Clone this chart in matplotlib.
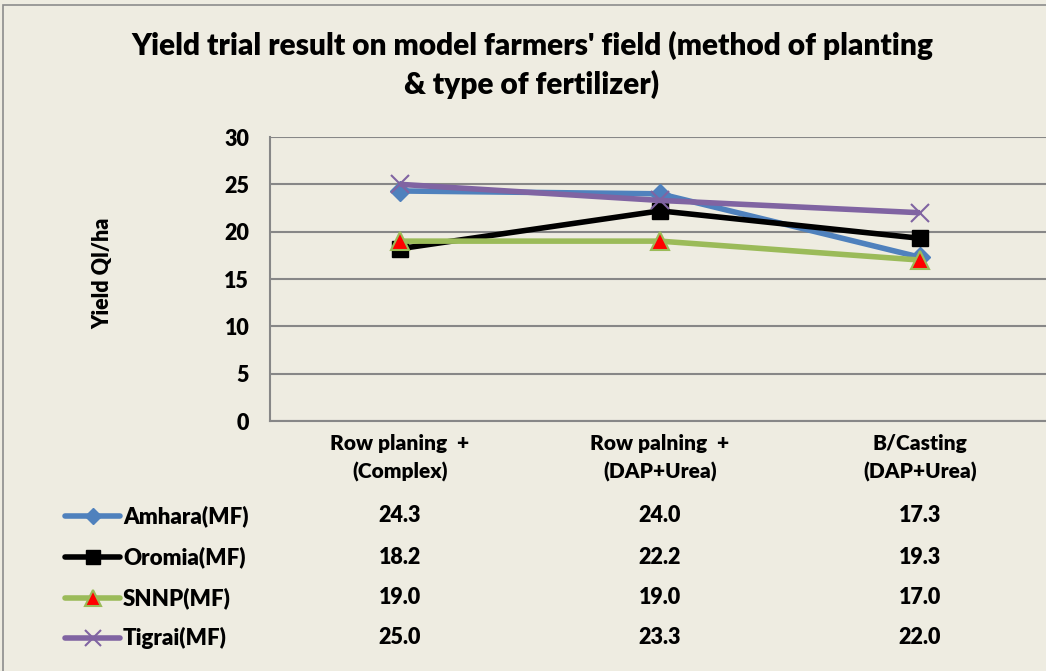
import matplotlib
matplotlib.use("Agg")
import matplotlib.pyplot as plt
from matplotlib.lines import Line2D
from matplotlib.patches import Rectangle

categories = ["Row planing  +\n(Complex)", "Row palning  +\n(DAP+Urea)", "B/Casting\n(DAP+Urea)"]
series_names = ["Amhara(MF)", "Oromia(MF)", "SNNP(MF)", "Tigrai(MF)"]
amhara = [24.3, 24.0, 17.3]
oromia = [18.2, 22.2, 19.3]
snnp = [19.0, 19.0, 17.0]
tigrai = [25.0, 23.3, 22.0]
yticks = [0, 5, 10, 15, 20, 25, 30]

series = [amhara, oromia, snnp, tigrai]
styles = [
    dict(color="#4F81BD", marker="D", ms=10, mfc="#4F81BD", mec="#4F81BD", mew=1),
    dict(color="#000000", marker="s", ms=12, mfc="#000000", mec="#000000", mew=1),
    dict(color="#9BBB59", marker="^", ms=13, mfc="#FF0000", mec="#9BBB59", mew=1.5),
    dict(color="#8064A2", marker="x", ms=13, mfc="#8064A2", mec="#8064A2", mew=1.5),
]

BG = "#EEECE1"
W, H = 1046, 671
FONT = "Lato"
WT = "heavy"
plt.rcParams["font.family"] = [FONT, "DejaVu Sans"]
plt.rcParams["font.weight"] = WT

fig = plt.figure(figsize=(W / 100, H / 100), dpi=100, facecolor=BG)
fig.add_artist(Rectangle((3 / W, -0.1), 1.2, 1 - 5 / H + 0.1, transform=fig.transFigure,
                         facecolor="none", edgecolor="#8C8C8C", lw=1.2))

ax = fig.add_axes([270 / W, 1 - 421 / H, 780 / W, 284 / H])
ax.set_facecolor(BG)
x = list(range(len(categories)))
for vals, st in zip(series, styles):
    ax.plot(x, vals, lw=4, solid_capstyle="butt", zorder=3, **st)

ax.set_xlim(-0.5, 2.5)
ax.set_ylim(0, 30)
ax.set_yticks(yticks)
ax.set_yticklabels([str(t) for t in yticks], fontsize=15.5, fontweight=WT)
ax.tick_params(axis="y", length=0, pad=15)
ax.set_xticks([])
ax.grid(axis="y", color="#878787", lw=1.5, zorder=1)
for s in ["top", "right"]:
    ax.spines[s].set_visible(False)
for s in ["left", "bottom"]:
    ax.spines[s].set_color("#878787")
    ax.spines[s].set_linewidth(1.5)

# title
fig.text(532 / W, 1 - 65 / H, "Yield trial result on model farmers' field (method of planting\n& type of fertilizer)",
         ha="center", va="center", fontsize=21.5, fontweight=WT, linespacing=1.42)
# y label
fig.text(103 / W, 1 - 273 / H, "Yield Ql/ha", rotation=90, ha="center", va="center",
         fontsize=15.5, fontweight=WT)

# data table
trans = ax.get_xaxis_transform()
def yax(py):
    return (421 - py) / 284.0

for i, c in enumerate(categories):
    ax.text(i, yax(458), c, transform=trans, ha="center", va="center", fontsize=15,
            fontweight=WT, linespacing=1.55, clip_on=False)

row_y = [516, 557, 598, 638]
for name, vals, st, py in zip(series_names, series, styles, row_y):
    for i, v in enumerate(vals):
        ax.text(i, yax(py), f"{v:.1f}", transform=trans, ha="center", va="center",
                fontsize=15.5, fontweight=WT, clip_on=False)
    fy = 1 - py / H
    fig.add_artist(Line2D([65 / W, 120 / W], [fy, fy], transform=fig.transFigure,
                          color=st["color"], lw=4, solid_capstyle="round"))
    fig.add_artist(Line2D([93 / W], [fy], transform=fig.transFigure, color=st["color"],
                          marker=st["marker"], ms=st["ms"] * 0.85, mfc=st["mfc"], mec=st["mec"],
                          mew=st["mew"], lw=0))
    fig.text(123 / W, fy, name, ha="left", va="center", fontsize=16, fontweight=WT)

fig.savefig("out.png", dpi=100, facecolor=BG)
